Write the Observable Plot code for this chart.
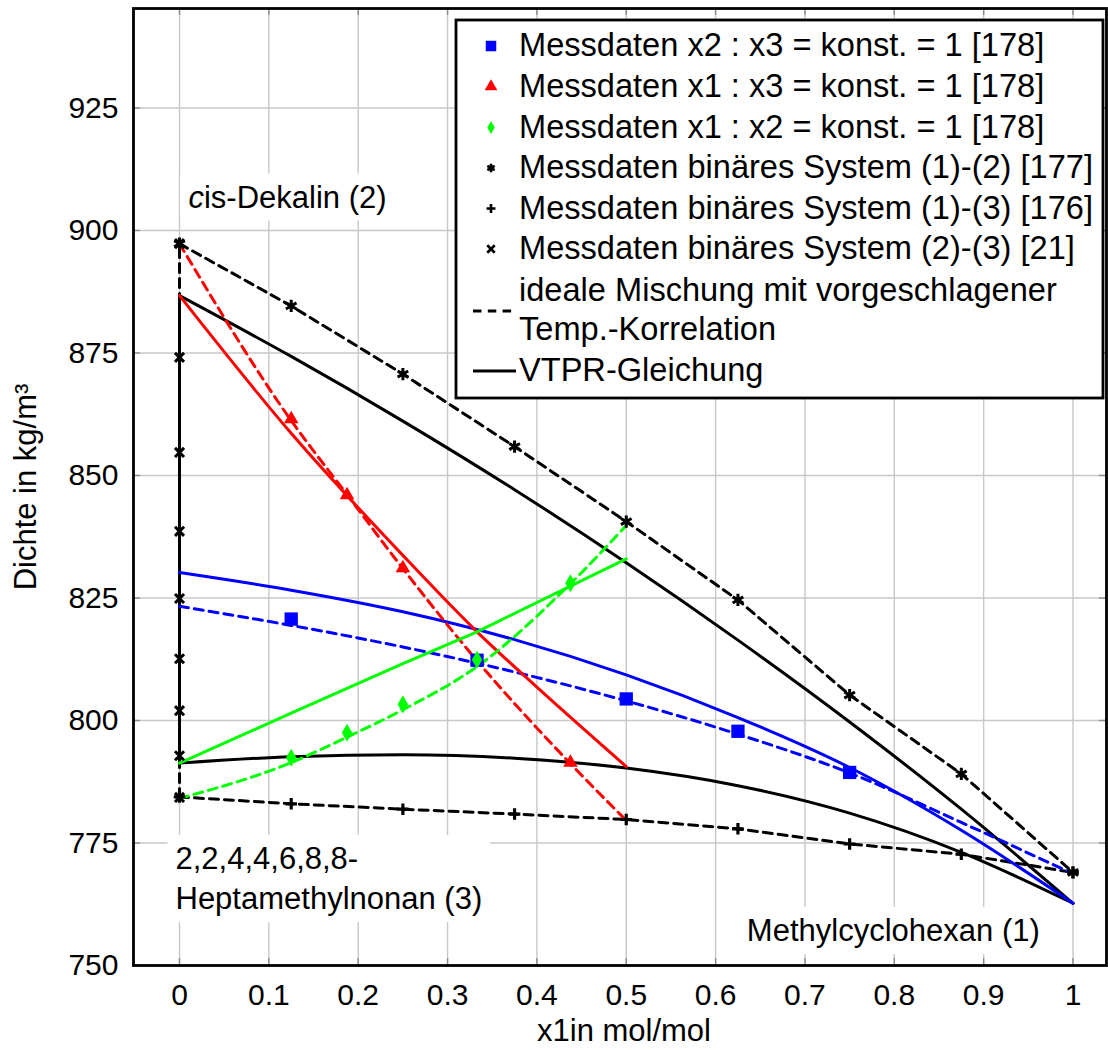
<!DOCTYPE html>
<html>
<head>
<meta charset="utf-8">
<script src="https://cdn.jsdelivr.net/npm/d3@7"></script>
<script src="https://cdn.jsdelivr.net/npm/@observablehq/plot@0.6"></script>
<style>
  body { margin: 0; background: #fff; }
  #wrap { position: relative; width: 1108px; height: 1050px; font-family: "Liberation Sans", Arial, Helvetica, sans-serif; }
  #wrap svg { position: absolute; left: 0; top: 0; }
</style>
</head>
<body>
<div id="wrap"></div>
<script>
// ---------- tick values ----------
const xTicks = [0, 0.1, 0.2, 0.3, 0.4, 0.5, 0.6, 0.7, 0.8, 0.9, 1];
const yTicks = [750, 775, 800, 825, 850, 875, 900, 925];

// ---------- binary measurements ----------
const bin12X   = [0, 0.125, 0.25, 0.375, 0.5, 0.625, 0.75, 0.875, 1];
const bin12Rho = [897.3, 884.6, 870.7, 855.9, 840.6, 824.6, 805.2, 789.1, 769.0];
const bin13X   = [0, 0.125, 0.25, 0.375, 0.5, 0.625, 0.75, 0.875, 1];
const bin13Rho = [784.4, 783.0, 781.9, 780.9, 779.8, 777.9, 774.8, 772.7, 769.0];
const bin23X   = [0, 0, 0, 0, 0, 0, 0, 0, 0];
const bin23Rho = [897.3, 874.1, 854.7, 838.6, 824.9, 812.6, 802.0, 792.8, 784.3];

// ---------- ideal mixing (dashed black) ----------
const ideal12X   = [0, 0.125, 0.25, 0.375, 0.5, 0.625, 0.75, 0.875, 1];
const ideal12Rho = [897.3, 884.6, 870.7, 855.9, 840.6, 824.6, 805.2, 789.1, 769.0];
const ideal13X   = [0, 0.125, 0.25, 0.375, 0.5, 0.625, 0.75, 0.875, 1];
const ideal13Rho = [784.4, 783.0, 781.9, 780.9, 779.8, 777.9, 774.8, 772.7, 769.0];
const ideal23X   = [0, 0];
const ideal23Rho = [784.3, 897.3];

// ---------- VTPR (solid black) ----------
const vtpr12X   = [0, 0.125, 0.25, 0.375, 0.5, 0.625, 0.75, 0.875, 1];
const vtpr12Rho = [886.7, 874.3, 861.1, 847.1, 832.2, 816.4, 799.7, 781.9, 762.7];
const vtpr13X   = [0, 0.125, 0.25, 0.375, 0.5, 0.625, 0.75, 0.875, 1];
const vtpr13Rho = [791.3, 792.6, 793.0, 792.3, 790.3, 786.7, 781.1, 773.1, 762.7];
const vtpr23X   = [0, 0];
const vtpr23Rho = [791.3, 886.7];

// ---------- x2 : x3 = 1 (blue) ----------
const blueX       = [0.125, 0.333, 0.5, 0.625, 0.75];
const blueRho     = [820.7, 812.3, 804.4, 797.8, 789.4];
const blueIdealX  = [0, 0.125, 0.25, 0.375, 0.5, 0.625, 0.75, 0.875, 1];
const blueIdealRho= [823.3, 819.4, 815.0, 809.9, 804.0, 797.2, 789.3, 779.2, 768.7];
const blueVtprX   = [0, 0.125, 0.25, 0.375, 0.5, 0.625, 0.75, 0.875, 1];
const blueVtprRho = [830.2, 826.6, 822.2, 816.5, 809.3, 800.6, 790.4, 777.6, 762.7];

// ---------- x1 : x3 = 1 (red) ----------
const redX        = [0.125, 0.1875, 0.25, 0.333, 0.4375];
const redRho      = [861.5, 846.0, 831.1, 812.3, 791.4];
const redIdealX   = [0, 0.125, 0.1875, 0.25, 0.333, 0.4375, 0.5];
const redIdealRho = [897.3, 861.2, 846.1, 831.0, 812.2, 791.2, 779.6];
const redVtprX    = [0, 0.125, 0.25, 0.333, 0.4, 0.5];
const redVtprRho  = [886.7, 858.6, 833.7, 818.1, 806.8, 790.6];

// ---------- x1 : x2 = 1 (green) ----------
const greenX        = [0.125, 0.1875, 0.25, 0.333, 0.4375];
const greenRho      = [792.4, 797.5, 803.3, 812.4, 828.0];
const greenIdealX   = [0, 0.125, 0.1875, 0.25, 0.333, 0.4375, 0.5];
const greenIdealRho = [784.1, 791.4, 796.6, 802.2, 811.0, 827.9, 839.8];
const greenVtprX    = [0, 0.125, 0.25, 0.333, 0.5];
const greenVtprRho  = [791.3, 801.5, 811.6, 818.1, 833.0];

// ---------- annotations ----------
const labelTexts = ["cis-Dekalin (2)", "2,2,4,4,6,8,8-\nHeptamethylnonan (3)", "Methylcyclohexan (1)"];
const labelX     = [0.010, -0.0045, 0.635];
const labelY     = [907.3, 768.2, 757.6];

// ---------- legend ----------
const legendLabels  = [
  "Messdaten x2 : x3 = konst. = 1 [178]",
  "Messdaten x1 : x3 = konst. = 1 [178]",
  "Messdaten x1 : x2 = konst. = 1 [178]",
  "Messdaten binäres System (1)-(2) [177]",
  "Messdaten binäres System (1)-(3) [176]",
  "Messdaten binäres System (2)-(3) [21]"
];
const legendSymbols = ["square", "triangle", "diamond", "asterisk", "plus", "times"];
const legendColors  = ["#0000ff", "#ff0000", "#00ff00", "#000000", "#000000", "#000000"];
const legendLineLabels = [["ideale Mischung mit vorgeschlagener", "Temp.-Korrelation"], ["VTPR-Gleichung"]];

// ---------- helpers ----------
const pts = (xs, ys) => xs.map((x, i) => ({x, y: ys[i]}));
const BLUE = "#0000ff", RED = "#ff0000", GREEN = "#00ff00", BLACK = "#000000";
const DASH = "9,6";
const LW = 3;

const W = 1108, H = 1050;
const mL = 133, mR = 2, mT = 8, mB = 85;
const fw = W - mL - mR, fh = H - mT - mB;

function line(xs, ys, color, dashed, curve = "linear") {
  return Plot.line(pts(xs, ys), {x: "x", y: "y", stroke: color, strokeWidth: LW,
    strokeDasharray: dashed ? DASH : null, curve});
}

const chart = Plot.plot({
  width: W, height: H,
  marginLeft: mL, marginRight: mR, marginTop: mT, marginBottom: mB,
  style: {fontFamily: '"Liberation Sans", Arial, Helvetica, sans-serif', background: "white", overflow: "visible"},
  x: {domain: [-0.0515, 1.0375], label: null},
  y: {domain: [750, 945.3], label: null},
  marks: [
    Plot.gridX(xTicks, {stroke: "#c8c8c8", strokeOpacity: 1, strokeWidth: 1.4}),
    Plot.gridY(yTicks, {stroke: "#c8c8c8", strokeOpacity: 1, strokeWidth: 1.4}),
    Plot.tickX(xTicks, {x: d => d, stroke: "#8c8c8c", strokeWidth: 1.4, insetTop: fh - 7}),
    Plot.tickX(xTicks, {x: d => d, stroke: "#8c8c8c", strokeWidth: 1.4, insetBottom: fh - 7}),
    Plot.tickY(yTicks, {y: d => d, stroke: "#8c8c8c", strokeWidth: 1.4, insetRight: fw - 7}),
    Plot.tickY(yTicks, {y: d => d, stroke: "#8c8c8c", strokeWidth: 1.4, insetLeft: fw - 7}),
    Plot.axisX(xTicks, {anchor: "bottom", tickSize: 0, tickPadding: 18, fontSize: 30, tickFormat: d3.format("~g"), label: null}),
    Plot.axisY(yTicks, {anchor: "left", tickSize: 0, tickPadding: 15, fontSize: 30, label: null}),
    Plot.text(["x1in mol/mol"], {text: d => d, frameAnchor: "bottom", dy: 66, dx: 4, fontSize: 31, textAnchor: "middle", lineAnchor: "middle"}),
    Plot.text(["Dichte in kg/m³"], {text: d => d, frameAnchor: "left", rotate: -90, dx: -107, fontSize: 31, textAnchor: "middle", lineAnchor: "middle"}),

    // ideal mixing (dashed black)
    line(ideal12X, ideal12Rho, BLACK, true),
    line(ideal13X, ideal13Rho, BLACK, true),
    line(ideal23X, ideal23Rho, BLACK, true),
    // VTPR (solid black)
    line(vtpr12X, vtpr12Rho, BLACK, false, "monotone-x"),
    line(vtpr13X, vtpr13Rho, BLACK, false, "monotone-x"),
    line(vtpr23X, vtpr23Rho, BLACK, false),
    // blue
    line(blueIdealX, blueIdealRho, BLUE, true, "monotone-x"),
    line(blueVtprX, blueVtprRho, BLUE, false, "monotone-x"),
    // red
    line(redIdealX, redIdealRho, RED, true, "monotone-x"),
    line(redVtprX, redVtprRho, RED, false, "monotone-x"),
    // green
    line(greenIdealX, greenIdealRho, GREEN, true, "monotone-x"),
    line(greenVtprX, greenVtprRho, GREEN, false),

    // binary markers
    Plot.dot(pts(bin23X, bin23Rho), {x: "x", y: "y", symbol: "times", r: 4.2, stroke: BLACK, strokeWidth: 3}),
    Plot.dot(pts(bin13X, bin13Rho), {x: "x", y: "y", symbol: "plus", r: 3.8, stroke: BLACK, strokeWidth: 3.2}),
    Plot.dot(pts(bin12X, bin12Rho), {x: "x", y: "y", symbol: "asterisk", r: 5.8, stroke: BLACK, strokeWidth: 3}),
    // ternary markers
    Plot.dot(pts(redX, redRho), {x: "x", y: "y", symbol: "triangle", r: 5.4, fill: RED, stroke: null}),
    Plot.dot(pts(blueX, blueRho), {x: "x", y: "y", symbol: "square", r: 7.5, fill: BLUE, stroke: null}),
    Plot.dot(pts(greenX, greenRho), {x: "x", y: "y", symbol: "diamond", r: 5.5, fill: GREEN, stroke: null}),

    Plot.frame({stroke: BLACK, strokeWidth: 2.8}),

    // component labels
    Plot.text(labelTexts.map((t, i) => ({t, x: labelX[i], y: labelY[i]})), {
      x: "x", y: "y", text: "t", textAnchor: "start", lineAnchor: "middle",
      lineHeight: 1.29, fontSize: 31, fill: BLACK, className: "complabel"
    })
  ]
});

const wrap = document.getElementById("wrap");
wrap.appendChild(chart);

// white boxes behind component labels, italic "c"
chart.querySelectorAll(".complabel text").forEach(t => {
  if (t.textContent === "cis-Dekalin (2)") {
    t.textContent = "";
    const ns = "http://www.w3.org/2000/svg";
    const a = document.createElementNS(ns, "tspan");
    a.setAttribute("font-style", "italic");
    a.textContent = "c";
    const b = document.createElementNS(ns, "tspan");
    b.textContent = "is-Dekalin (2)";
    t.appendChild(a); t.appendChild(b);
  }
  const bb = t.getBBox();
  const r = document.createElementNS("http://www.w3.org/2000/svg", "rect");
  const pad = 8;
  r.setAttribute("x", bb.x - pad);
  r.setAttribute("y", bb.y - pad + 2);
  r.setAttribute("width", bb.width + 2 * pad);
  r.setAttribute("height", bb.height + 2 * pad - 4);
  r.setAttribute("fill", "white");
  if (t.getAttribute("transform")) r.setAttribute("transform", t.getAttribute("transform"));
  t.parentNode.insertBefore(r, t);
});

// ---------- legend overlay ----------
const leg = d3.select(wrap).append("svg")
  .attr("width", W).attr("height", H)
  .style("pointer-events", "none")
  .style("font-family", '"Liberation Sans", Arial, Helvetica, sans-serif');

const LB = {x: 456, y: 20, w: 647, h: 378};
leg.append("rect").attr("x", LB.x).attr("y", LB.y).attr("width", LB.w).attr("height", LB.h)
  .attr("fill", "white").attr("stroke", BLACK).attr("stroke-width", 2.8);

const rowY = [45, 85.5, 126.5, 167, 207.5, 248];
const symMap = {square: d3.symbolSquare, triangle: d3.symbolTriangle, diamond: d3.symbolDiamond,
  asterisk: d3.symbolAsterisk, plus: d3.symbolPlus, times: d3.symbolTimes};
const symSize = {square: 110, triangle: 70, diamond: 48, asterisk: 50, plus: 28, times: 38};
const symStroke = {asterisk: true, plus: true, times: true};
const textX = 519, symX = 491, FS = 32.6;

legendLabels.forEach((lab, i) => {
  const s = legendSymbols[i];
  const p = leg.append("path").attr("d", d3.symbol(symMap[s], symSize[s])())
    .attr("transform", `translate(${symX},${rowY[i] + 1})`);
  if (symStroke[s]) p.attr("fill", "none").attr("stroke", legendColors[i]).attr("stroke-width", 2.6);
  else p.attr("fill", legendColors[i]);
  leg.append("text").attr("x", textX).attr("y", rowY[i]).attr("dy", "0.35em")
    .attr("font-size", FS).text(lab);
});

// dashed entry (two lines)
const dashY = 311;
leg.append("line").attr("x1", 473).attr("x2", 514).attr("y1", dashY).attr("y2", dashY)
  .attr("stroke", BLACK).attr("stroke-width", LW).attr("stroke-dasharray", "8.5,6.3");
legendLineLabels[0].forEach((l, j) => {
  leg.append("text").attr("x", textX).attr("y", [290, 329][j]).attr("dy", "0.35em")
    .attr("font-size", FS).text(l);
});
// solid entry
const solidY = 371;
leg.append("line").attr("x1", 473).attr("x2", 516).attr("y1", solidY).attr("y2", solidY)
  .attr("stroke", BLACK).attr("stroke-width", LW);
leg.append("text").attr("x", textX).attr("y", 370).attr("dy", "0.35em")
  .attr("font-size", FS).text(legendLineLabels[1][0]);
</script>
</body>
</html>
